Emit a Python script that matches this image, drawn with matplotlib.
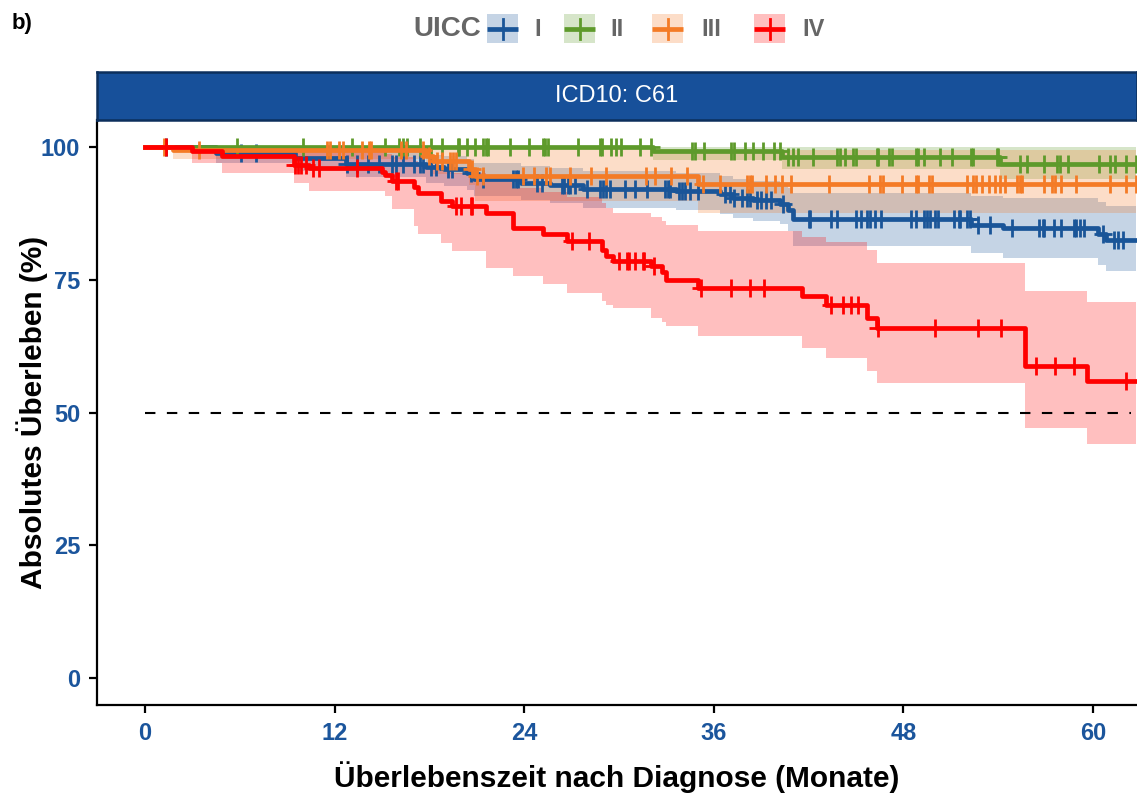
import numpy as np
import matplotlib
matplotlib.use("Agg")
import matplotlib.pyplot as plt
from matplotlib.patches import Rectangle

plt.rcParams['font.family'] = ['Liberation Sans', 'DejaVu Sans']

# ---- Kaplan-Meier estimates per UICC stage (months, survival in %) ----
stages = ["I", "II", "III", "IV"]
stage_colors = ["#1A5598", "#5E9A2B", "#F47B26", "#FF0000"]

t_I = [0, 4.5, 9.5, 12.7, 17.8, 18.9, 20.4, 20.8, 23.8, 25.6, 27.7, 33.6, 36.4,
       37.2, 38.5, 40.2, 40.7, 41.0, 52.3, 54.3, 60.3, 60.8]
s_I = [100, 98.8, 97.9, 96.8, 96.1, 95.7, 95.0, 94.0, 93.2, 92.8, 92.1, 91.6, 91.0,
       90.4, 90.0, 89.2, 88.0, 86.3, 85.3, 84.7, 83.5, 82.5]
lo_I = [100, 97.0, 95.5, 94.3, 93.2, 92.6, 91.8, 90.8, 89.9, 89.4, 88.5, 88.0, 87.3,
        86.6, 86.1, 85.4, 84.2, 81.3, 80.0, 79.1, 77.7, 76.6]
hi_I = [100, 100, 99.6, 99.0, 98.5, 98.2, 97.7, 97.0, 96.4, 96.0, 95.5, 95.0, 94.5,
        94.0, 93.6, 93.0, 92.2, 91.3, 90.7, 90.3, 89.5, 88.8]
cens_I = [1.3, 6.1, 7.0, 12.8, 13.4, 14.1, 14.8, 15.6, 15.9, 16.3, 17.0, 17.4, 17.6,
          18.1, 18.4, 19.2, 19.4, 20.6, 21.4, 23.3, 23.5, 23.6, 24.8, 25.1, 26.4,
          26.5, 26.8, 26.9, 27.2, 28.0, 28.8, 29.0, 29.2, 29.4, 30.4, 31.0, 31.8,
          32.9, 33.1, 33.2, 33.8, 34.0, 34.2, 34.5, 35.0, 36.7, 37.0, 37.3, 37.8,
          38.1, 38.3, 38.7, 39.0, 39.3, 39.6, 40.4, 42.0, 42.1, 43.4, 43.8, 45.0,
          45.3, 45.7, 45.9, 46.2, 46.6, 48.5, 48.8, 49.3, 49.5, 49.7, 50.0, 50.2,
          51.2, 51.5, 51.6, 52.0, 52.2, 52.7, 53.5, 54.9, 56.6, 56.8, 56.9, 57.5,
          58.0, 58.8, 58.9, 59.2, 59.4, 60.6, 61.3, 61.6, 61.9]

t_II = [0, 32.15, 40.3, 54.1]
s_II = [100, 99.1, 98.0, 96.7]
lo_II = [100, 97.5, 95.7, 94.0]
hi_II = [100, 100, 100, 100]
cens_II = [5.8, 10.0, 13.1, 15.2, 16.1, 16.3, 16.6, 17.4, 18.1, 18.8, 19.8, 19.9,
           20.4, 20.9, 21.4, 21.6, 21.7, 23.1, 24.3, 25.2, 25.3, 25.5, 27.4, 28.8,
           28.9, 29.5, 29.8, 30.1, 31.3, 32.0, 34.6, 34.8, 35.4, 37.1, 37.3, 38.0,
           38.5, 39.1, 39.8, 40.2, 40.7, 41.0, 41.3, 42.3, 43.8, 44.0, 44.3, 44.8,
           45.0, 46.3, 46.4, 47.1, 47.3, 48.8, 48.9, 49.3, 50.3, 51.1, 52.3, 52.4,
           53.9, 54.0, 55.4, 55.8, 56.9, 57.7, 57.9, 58.4, 60.4, 61.1, 61.4, 62.1,
           62.7]

t_III = [0, 1.8, 17.8, 18.2, 20.5, 20.9, 35.0]
s_III = [100, 99.4, 98.2, 97.2, 95.8, 94.5, 93.0]
lo_III = [100, 97.6, 96.0, 94.8, 92.8, 89.7, 87.6]
hi_III = [100, 100, 100, 100, 99.8, 99.5, 99.3]
cens_III = [1.2, 3.4, 11.5, 11.7, 12.3, 12.5, 13.7, 14.2, 14.3, 16.2, 16.5, 17.6,
            18.0, 18.5, 18.8, 19.3, 19.5, 19.7, 20.7, 21.0, 21.4, 23.9, 24.6, 25.4,
            25.6, 26.9, 28.2, 29.2, 31.7, 32.3, 33.3, 34.3, 35.3, 36.4, 38.1, 38.3,
            38.4, 39.3, 39.9, 40.3, 40.9, 43.3, 45.8, 46.5, 46.7, 47.9, 48.8, 48.9,
            49.6, 49.8, 52.0, 52.4, 52.6, 53.0, 53.4, 53.8, 54.1, 54.4, 55.2, 55.4,
            55.5, 56.9, 57.4, 57.6, 58.0, 58.9, 61.1, 62.1, 62.7]

t_IV = [0, 3.0, 4.85, 9.4, 10.4, 15.0, 15.2, 15.6, 17.0, 17.3, 18.7, 19.4, 21.6,
        23.3, 25.2, 26.7, 28.9, 29.2, 29.6, 32.0, 32.7, 33.0, 35.0, 41.6, 43.1,
        45.7, 46.3, 55.7, 59.6]
s_IV = [100, 99.1, 98.2, 96.5, 96.0, 95.3, 94.7, 93.6, 92.4, 91.3, 89.7, 88.8, 87.5,
        84.7, 83.5, 82.2, 80.6, 79.4, 78.4, 77.5, 76.4, 75.0, 73.4, 71.9, 70.2,
        67.8, 65.9, 58.7, 55.9]
lo_IV = [100, 96.9, 95.1, 93.2, 91.6, 91.6, 90.8, 88.3, 85.0, 83.5, 81.9, 80.3, 77.2,
         75.6, 74.1, 72.5, 70.9, 70.3, 69.7, 67.8, 67.0, 66.2, 64.3, 62.2, 60.3,
         57.8, 55.6, 47.1, 44.0]
hi_IV = [100, 100, 100, 99.6, 99.3, 99.0, 98.6, 98.0, 97.2, 96.5, 95.5, 95.0, 94.0,
         92.2, 91.4, 90.5, 89.3, 88.4, 87.6, 86.8, 86.0, 85.3, 84.1, 83.0, 82.0,
         80.5, 78.2, 72.8, 70.8]
cens_IV = [1.3, 9.5, 9.7, 9.9, 10.2, 10.6, 11.0, 13.4, 15.9, 16.0, 19.7, 20.0, 20.6,
           20.7, 27.0, 28.1, 30.0, 30.5, 30.6, 31.0, 31.5, 31.6, 32.2, 35.2, 37.1,
           38.3, 39.2, 43.4, 44.2, 44.7, 45.1, 46.4, 50.0, 52.7, 54.2, 56.4, 57.6,
           58.8, 62.1]

follow_up_end = 62.7
median_line = 50
median_line_end = 62.4
x_ticks = [0, 12, 24, 36, 48, 60]
y_ticks = [0, 25, 50, 75, 100]

series = [
    (t_I, s_I, lo_I, hi_I, cens_I),
    (t_II, s_II, lo_II, hi_II, cens_II),
    (t_III, s_III, lo_III, hi_III, cens_III),
    (t_IV, s_IV, lo_IV, hi_IV, cens_IV),
]

W, H = 1137, 798
fig = plt.figure(figsize=(W / 100, H / 100), dpi=100)
tick_blue = "#1B559C"

ax = fig.add_axes([97 / W, 1 - 705 / H, (W - 97) / W, (705 - 120) / H])
ax.set_xlim(-3.04, 62.78)
ax.set_ylim(-5, 105)

def extend(t, v):
    return np.append(np.asarray(t, float), follow_up_end), np.append(np.asarray(v, float), v[-1])

# confidence ribbons
for (t, s, lo, hi, c), col in zip(series, stage_colors):
    te, loe = extend(t, lo)
    _, hie = extend(t, hi)
    ax.fill_between(te, loe, hie, step="post", color=col, alpha=0.25, lw=0, zorder=1)

ax.plot([0, median_line_end], [median_line, median_line], color="black", lw=1.5,
        linestyle=(0, (5, 5.5)), zorder=2)

# survival curves and censoring marks
for k, ((t, s, lo, hi, c), col) in enumerate(zip(series, stage_colors)):
    te, se = extend(t, s)
    ax.step(te, se, where="post", color=col, lw=3.4, zorder=3 + k)
    idx = np.searchsorted(np.asarray(t), np.asarray(c), side="right") - 1
    cy = np.asarray(s)[idx]
    ax.plot(c, cy, linestyle="none", marker="+", color=col, markersize=13,
            markeredgewidth=2.0, zorder=3 + k)

ax.set_xticks(x_ticks)
ax.set_yticks(y_ticks)
ax.set_xticklabels([str(v) for v in x_ticks])
ax.set_yticklabels([str(v) for v in y_ticks])
ax.tick_params(axis="both", direction="out", length=6, width=1.6, color="black",
               labelsize=17, labelcolor=tick_blue, pad=6)
for lab in ax.get_xticklabels() + ax.get_yticklabels():
    lab.set_fontweight("bold")
for side in ["top", "right"]:
    ax.spines[side].set_visible(False)
for side in ["left", "bottom"]:
    ax.spines[side].set_linewidth(1.6)
ax.set_xlabel("Überlebenszeit nach Diagnose (Monate)", fontsize=21.5, fontweight="bold",
              labelpad=12)
ax.set_ylabel("Absolutes Überleben (%)", fontsize=21.5, fontweight="bold", va="center")
ax.yaxis.set_label_coords(-0.0625, 0.5)

# facet strip
strip = fig.add_axes([97 / W, 1 - 120 / H, (W - 97) / W, 48 / H])
strip.set_facecolor("#17509A")
strip.set_xticks([])
strip.set_yticks([])
for sp in strip.spines.values():
    sp.set_color("#0C2F5C")
    sp.set_linewidth(1.8)
strip.text(0.5, 0.5, "ICD10: C61", color="white", fontsize=17, ha="center",
           va="center", transform=strip.transAxes)

# legend and panel tag drawn in pixel coordinates
ov = fig.add_axes([0, 0, 1, 1], zorder=10)
ov.set_xlim(0, W)
ov.set_ylim(H, 0)
ov.axis("off")
ov.text(12, 24, "b)", fontsize=16, fontweight="bold", ha="left", va="center")
ov.text(481, 29, "UICC", fontsize=20, fontweight="bold", color="#666666",
        ha="right", va="center")
key_x = [487, 564, 652, 754]
lab_x = [534, 610, 701, 802]
for kx, lx, col, name in zip(key_x, lab_x, stage_colors, stages):
    ov.add_patch(Rectangle((kx, 14), 31, 29, facecolor=col, alpha=0.25, lw=0))
    ov.plot([kx, kx + 31], [29, 29], color=col, lw=3.4, solid_capstyle="butt")
    ov.plot([kx + 15.5, kx + 15.5], [19, 39], color=col, lw=2.0)
    ov.text(lx, 29.5, name, fontsize=17, fontweight="bold", color="#666666",
            ha="left", va="center")

fig.savefig("out.png", dpi=100)
